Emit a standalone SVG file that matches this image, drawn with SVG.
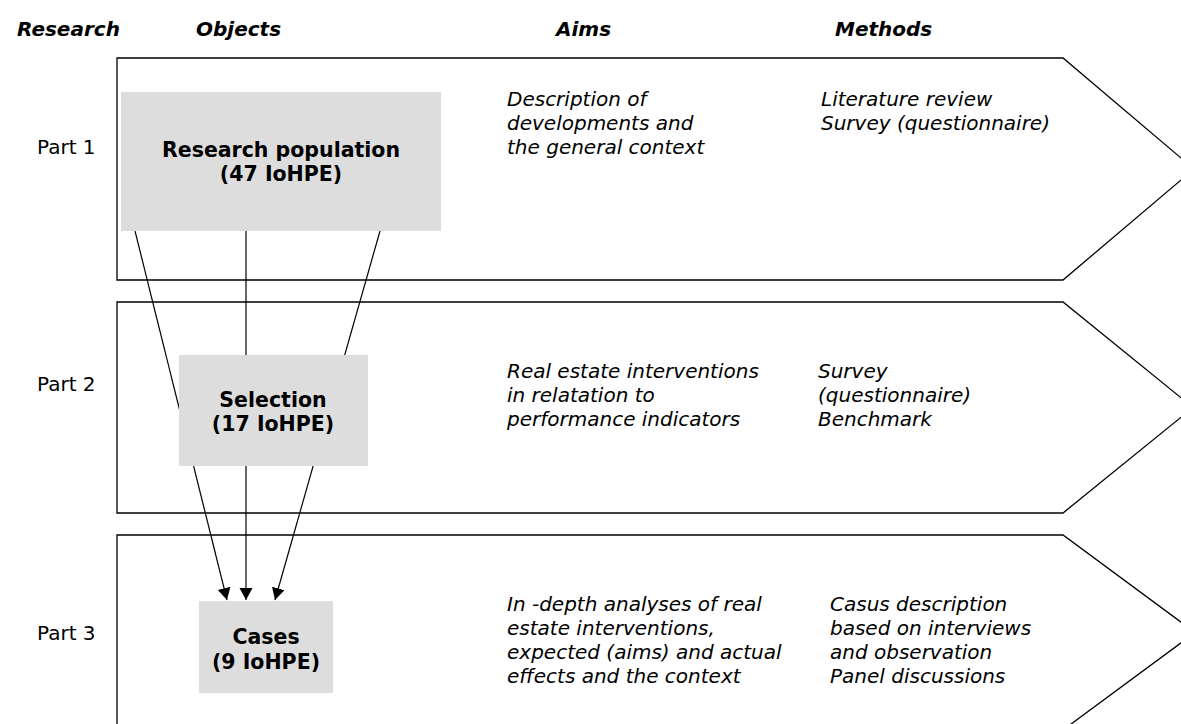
<svg xmlns="http://www.w3.org/2000/svg" width="1181" height="724" viewBox="0 0 1181 724">
<style>
.chev{fill:#fff;stroke:#000;stroke-width:1.3}
.box{fill:#dddddd;stroke:none}
.hdr{font-family:"DejaVu Sans",sans-serif;font-size:20px;font-weight:bold;font-style:italic;fill:#000}
.part{font-family:"DejaVu Sans",sans-serif;font-size:20px;fill:#000}
.lbl{font-family:"DejaVu Sans",sans-serif;font-size:20.5px;font-weight:bold;fill:#000;text-anchor:middle}
.txt{font-family:"DejaVu Sans",sans-serif;font-size:20px;font-style:italic;fill:#000}
.con{fill:none;stroke:#000;stroke-width:1.2}
</style>
<defs>
<marker id="arr" markerUnits="userSpaceOnUse" markerWidth="14" markerHeight="14" refX="12" refY="6.5" orient="auto">
<path d="M0,0 L12,6.5 L0,13 z" fill="#000"/>
</marker>
</defs>
<rect width="1181" height="724" fill="#fff"/>
<g id="headers">
<text class="hdr" x="17" y="36">Research</text>
<text class="hdr" x="196" y="36">Objects</text>
<text class="hdr" x="556" y="36">Aims</text>
<text class="hdr" x="835" y="36">Methods</text>
</g>
<g id="part1">
<polygon class="chev" points="117,58 1063,58 1194,169 1063,280 117,280"/>
<text class="part" x="37" y="154">Part 1</text>
<text class="txt" x="507" y="106">Description of</text>
<text class="txt" x="507" y="130">developments and</text>
<text class="txt" x="507" y="154">the general context</text>
<text class="txt" x="821" y="106">Literature review</text>
<text class="txt" x="821" y="130">Survey (questionnaire)</text>
</g>
<g id="part2">
<polygon class="chev" points="117,302 1063,302 1193,407.5 1063,513 117,513"/>
<text class="part" x="37" y="391">Part 2</text>
<text class="txt" x="507" y="378">Real estate interventions</text>
<text class="txt" x="507" y="402">in relatation to</text>
<text class="txt" x="507" y="426">performance indicators</text>
<text class="txt" x="818" y="378">Survey</text>
<text class="txt" x="818" y="402">(questionnaire)</text>
<text class="txt" x="818" y="426">Benchmark</text>
</g>
<g id="part3">
<polygon class="chev" points="117,535 1063,535 1195,632.5 1063,730 117,730"/>
<text class="part" x="37" y="640">Part 3</text>
<text class="txt" x="507" y="611">In -depth analyses of real</text>
<text class="txt" x="507" y="635">estate interventions,</text>
<text class="txt" x="507" y="659">expected (aims) and actual</text>
<text class="txt" x="507" y="683">effects and the context</text>
<text class="txt" x="830" y="611">Casus description</text>
<text class="txt" x="830" y="635">based on interviews</text>
<text class="txt" x="830" y="659">and observation</text>
<text class="txt" x="830" y="683">Panel discussions</text>
</g>
<g id="connectors">
<path class="con" d="M135,231 L227,600" marker-end="url(#arr)"/>
<path class="con" d="M246,231 L246,600" marker-end="url(#arr)"/>
<path class="con" d="M380,231 L275,600" marker-end="url(#arr)"/>
</g>
<g id="research-population">
<rect class="box" x="121" y="92" width="320" height="139"/>
<text class="lbl" x="281" y="157">Research population</text>
<text class="lbl" x="281" y="181">(47 IoHPE)</text>
</g>
<g id="selection">
<rect class="box" x="179" y="355" width="189" height="111"/>
<text class="lbl" x="273" y="407">Selection</text>
<text class="lbl" x="273" y="431">(17 IoHPE)</text>
</g>
<g id="cases">
<rect class="box" x="199" y="601" width="134" height="92"/>
<text class="lbl" x="266" y="644">Cases</text>
<text class="lbl" x="266" y="669">(9 IoHPE)</text>
</g>
</svg>
